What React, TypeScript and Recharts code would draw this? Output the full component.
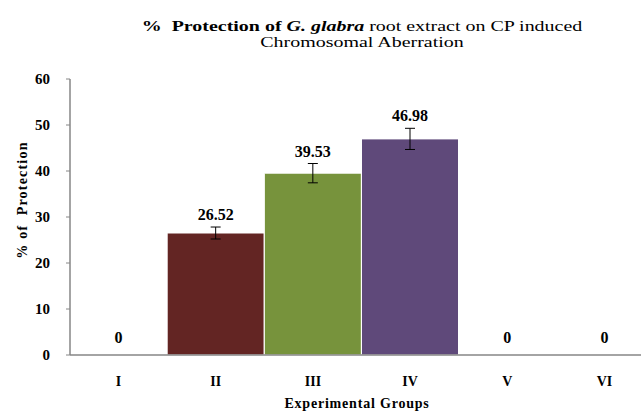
import React from 'react';
import { ComposedChart, Bar, Line, XAxis, YAxis, Cell, ErrorBar, LabelList } from 'recharts';

const groups = ['I', 'II', 'III', 'IV', 'V', 'VI'];
const protection = [0, 26.52, 39.53, 46.98, 0, 0];
const errors: (number | null)[] = [null, 1.3, 2.1, 2.3, null, null];
const barColors = ['#632523', '#632523', '#77933C', '#5F497A', '#632523', '#632523'];
const yTicks = [0, 10, 20, 30, 40, 50, 60];

const data = groups.map((g, i) => ({ group: g, value: protection[i], err: errors[i] }));

const serif = '"Liberation Serif", "Times New Roman", serif';

const labelText = (x: number, y: number, value: any) => (
  <text
    x={x}
    y={y}
    textAnchor="middle"
    fontFamily={serif}
    fontWeight="bold"
    fontSize={16}
    fill="#000"
  >
    {String(value)}
  </text>
);

const renderBarLabel = (props: any) => {
  const { x, y, width, height, value } = props;
  const v = Number(value);
  if (!(v > 0)) return null;
  const e = errors[protection.indexOf(v)];
  const pxPerUnit = Math.abs(height) / v;
  const baseline = Math.min(y, y + height) - (e ? e * pxPerUnit : 0) - 7;
  return labelText(x + width / 2, baseline, value);
};

const renderZeroLabel = (props: any) => {
  const { x, y, value } = props;
  if (Number(value) !== 0) return null;
  return labelText(x, y - 12, value);
};

export default function App() {
  return (
    <div
      style={{
        position: 'absolute',
        left: 0,
        top: 0,
        width: 641,
        height: 413,
        overflow: 'hidden',
        background: '#fff',
        fontFamily: serif,
      }}
    >
      <ComposedChart
        width={700}
        height={413}
        data={data}
        margin={{ top: 79, right: 47, left: 10, bottom: 28 }}
        barCategoryGap={0}
      >
        <XAxis
          dataKey="group"
          height={30}
          tickLine={false}
          axisLine={{ stroke: '#868686', strokeWidth: 1.5 }}
          tickMargin={15}
          tick={{ fill: '#000', fontFamily: serif, fontWeight: 'bold', fontSize: 14 }}
          interval={0}
        />
        <YAxis
          width={60}
          domain={[0, 60]}
          ticks={yTicks}
          interval={0}
          tickSize={4}
          tickMargin={16}
          axisLine={{ stroke: '#868686', strokeWidth: 1.5 }}
          tickLine={{ stroke: '#868686' }}
          tick={{ fill: '#000', fontFamily: serif, fontWeight: 'bold', fontSize: 15 }}
        />
        <Bar dataKey="value" isAnimationActive={false} stroke="#fff" strokeWidth={1}>
          {data.map((d, i) => (
            <Cell key={d.group} fill={barColors[i]} />
          ))}
          <ErrorBar dataKey="err" width={5} stroke="#000" strokeWidth={1} direction="y" />
          <LabelList dataKey="value" content={renderBarLabel} />
        </Bar>
        <Line
          dataKey="value"
          stroke="none"
          dot={false}
          activeDot={false}
          isAnimationActive={false}
          legendType="none"
        >
          <LabelList dataKey="value" content={renderZeroLabel} />
        </Line>
      </ComposedChart>

      <div
        style={{
          position: 'absolute',
          left: 362,
          top: 18,
          transform: 'translateX(-50%) scaleX(1.33)',
          textAlign: 'center',
          fontSize: 15,
          lineHeight: '16px',
          whiteSpace: 'nowrap',
          color: '#000',
        }}
      >
        <div>
          <b>%&nbsp; Protection of </b>
          <b><i>G. glabra</i></b>
          <span> root extract on CP induced</span>
        </div>
        <div>Chromosomal Aberration</div>
      </div>

      <div
        style={{
          position: 'absolute',
          left: 23,
          top: 200,
          transform: 'translate(-50%, -50%) rotate(-90deg)',
          fontSize: 14,
          fontWeight: 'bold',
          letterSpacing: '1.2px',
          whiteSpace: 'nowrap',
          color: '#000',
        }}
      >
        % of&nbsp; Protection
      </div>

      <div
        style={{
          position: 'absolute',
          left: 357,
          top: 404,
          transform: 'translate(-50%, -50%)',
          fontSize: 14,
          fontWeight: 'bold',
          letterSpacing: '0.8px',
          whiteSpace: 'nowrap',
          color: '#000',
        }}
      >
        Experimental Groups
      </div>
    </div>
  );
}
